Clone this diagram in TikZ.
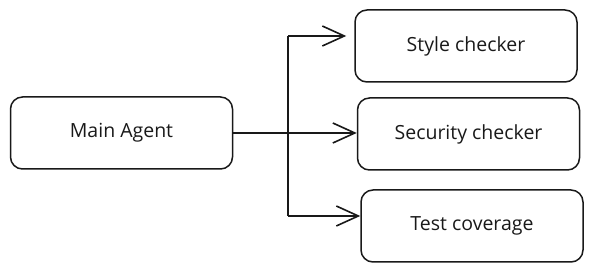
\documentclass[tikz,border=0pt]{standalone}
\usepackage{fontspec}
\setmainfont{Open Sans}
\usetikzlibrary{arrows.meta}
\begin{document}
\begin{tikzpicture}[x=1pt,y=-1pt,
  box/.style={draw=black!90, line width=1.5pt, rounded corners=12pt, minimum width=222pt, minimum height=72pt, inner sep=0pt, font=\fontsize{19.5}{22}\selectfont, text=black!90},
  conn/.style={draw=black!90, line width=1.6pt},
  arr/.style={conn, -{Straight Barb[length=22pt,width=20pt,line width=1.6pt]}}]
\useasboundingbox (0,0) rectangle (595,272);
\node[box] (main) at (121.5,133) {Main Agent};
\node[box] (style) at (466,46) {Style checker};
\node[box] (sec) at (468.5,134) {Security checker};
\node[box] (test) at (472,226) {Test coverage};
\coordinate (top) at (288,36);
\coordinate (bot) at (288,216);
\draw[conn] (top) -- (bot);
\draw[arr, line width=2.4pt] (main.east) -- (main.east -| sec.west);
\draw[arr] (top) -- ([xshift=-8pt]style.west |- top);
\draw[arr] (bot) -- (test.west |- bot);
\end{tikzpicture}
\end{document}
